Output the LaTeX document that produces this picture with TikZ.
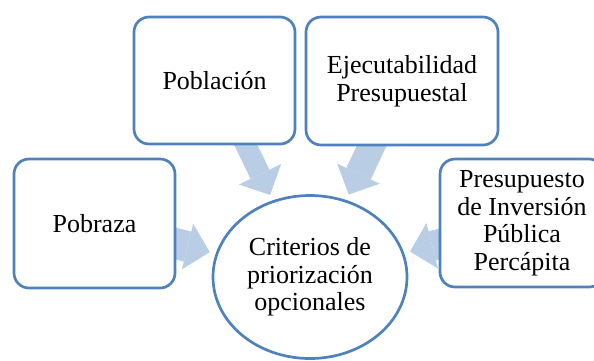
\documentclass[tikz,border=0pt]{standalone}
\usepackage{fontspec}
\setmainfont{Liberation Serif}
\usetikzlibrary{arrows.meta, backgrounds, shapes.geometric}
\definecolor{frameblue}{HTML}{4F81BD}
\definecolor{arrowblue}{HTML}{B9CDE5}

\begin{document}
\begin{tikzpicture}[x=1pt, y=-1pt,
    card/.style={draw=frameblue, line width=2.7pt, fill=white, rounded corners=15pt,
        align=center, inner sep=0pt, font=\fontsize{26}{27.5}\selectfont},
    goal/.style={ellipse, draw=frameblue, line width=2.7pt, fill=white, align=center,
        inner sep=0pt, minimum width=194pt, minimum height=163pt, font=\fontsize{26}{27.5}\selectfont},
    feed/.style={draw=arrowblue, line width=#1, -{Triangle[width=47pt, length=23pt, line width=0pt]},
        shorten <=-14pt, shorten >=6pt}]

    % Fix the page
    \clip (0,0) rectangle (594,360);

    % Draw the centre
    \node[goal] (crit) at (310,277) {Criterios de\\priorización\\opcionales};

    % Draw the criteria boxes
    \node[card, minimum width=161pt, minimum height=127pt] (pobl) at (214.5,80.5) {Población};
    \node[card, minimum width=192pt, minimum height=128pt] (ejec) at (402,81) {Ejecutabilidad\\Presupuestal};
    \node[card, minimum width=161pt, minimum height=129pt] (pobr) at (94.5,223.5) {Pobraza};
    \node[card, minimum width=164pt, minimum height=128pt] (pres) at (522,223) {Presupuesto\\de Inversión\\Pública\\Percápita};

    % Draw the arrows behind the boxes
    \begin{scope}[on background layer]
        \draw[feed=21pt] (pobl) -- (crit);
        \draw[feed=27pt] (ejec) -- (crit);
        \draw[feed=31pt] (pobr) -- (crit);
        \draw[feed=30pt] (pres) -- (crit);
    \end{scope}
\end{tikzpicture}
\end{document}
